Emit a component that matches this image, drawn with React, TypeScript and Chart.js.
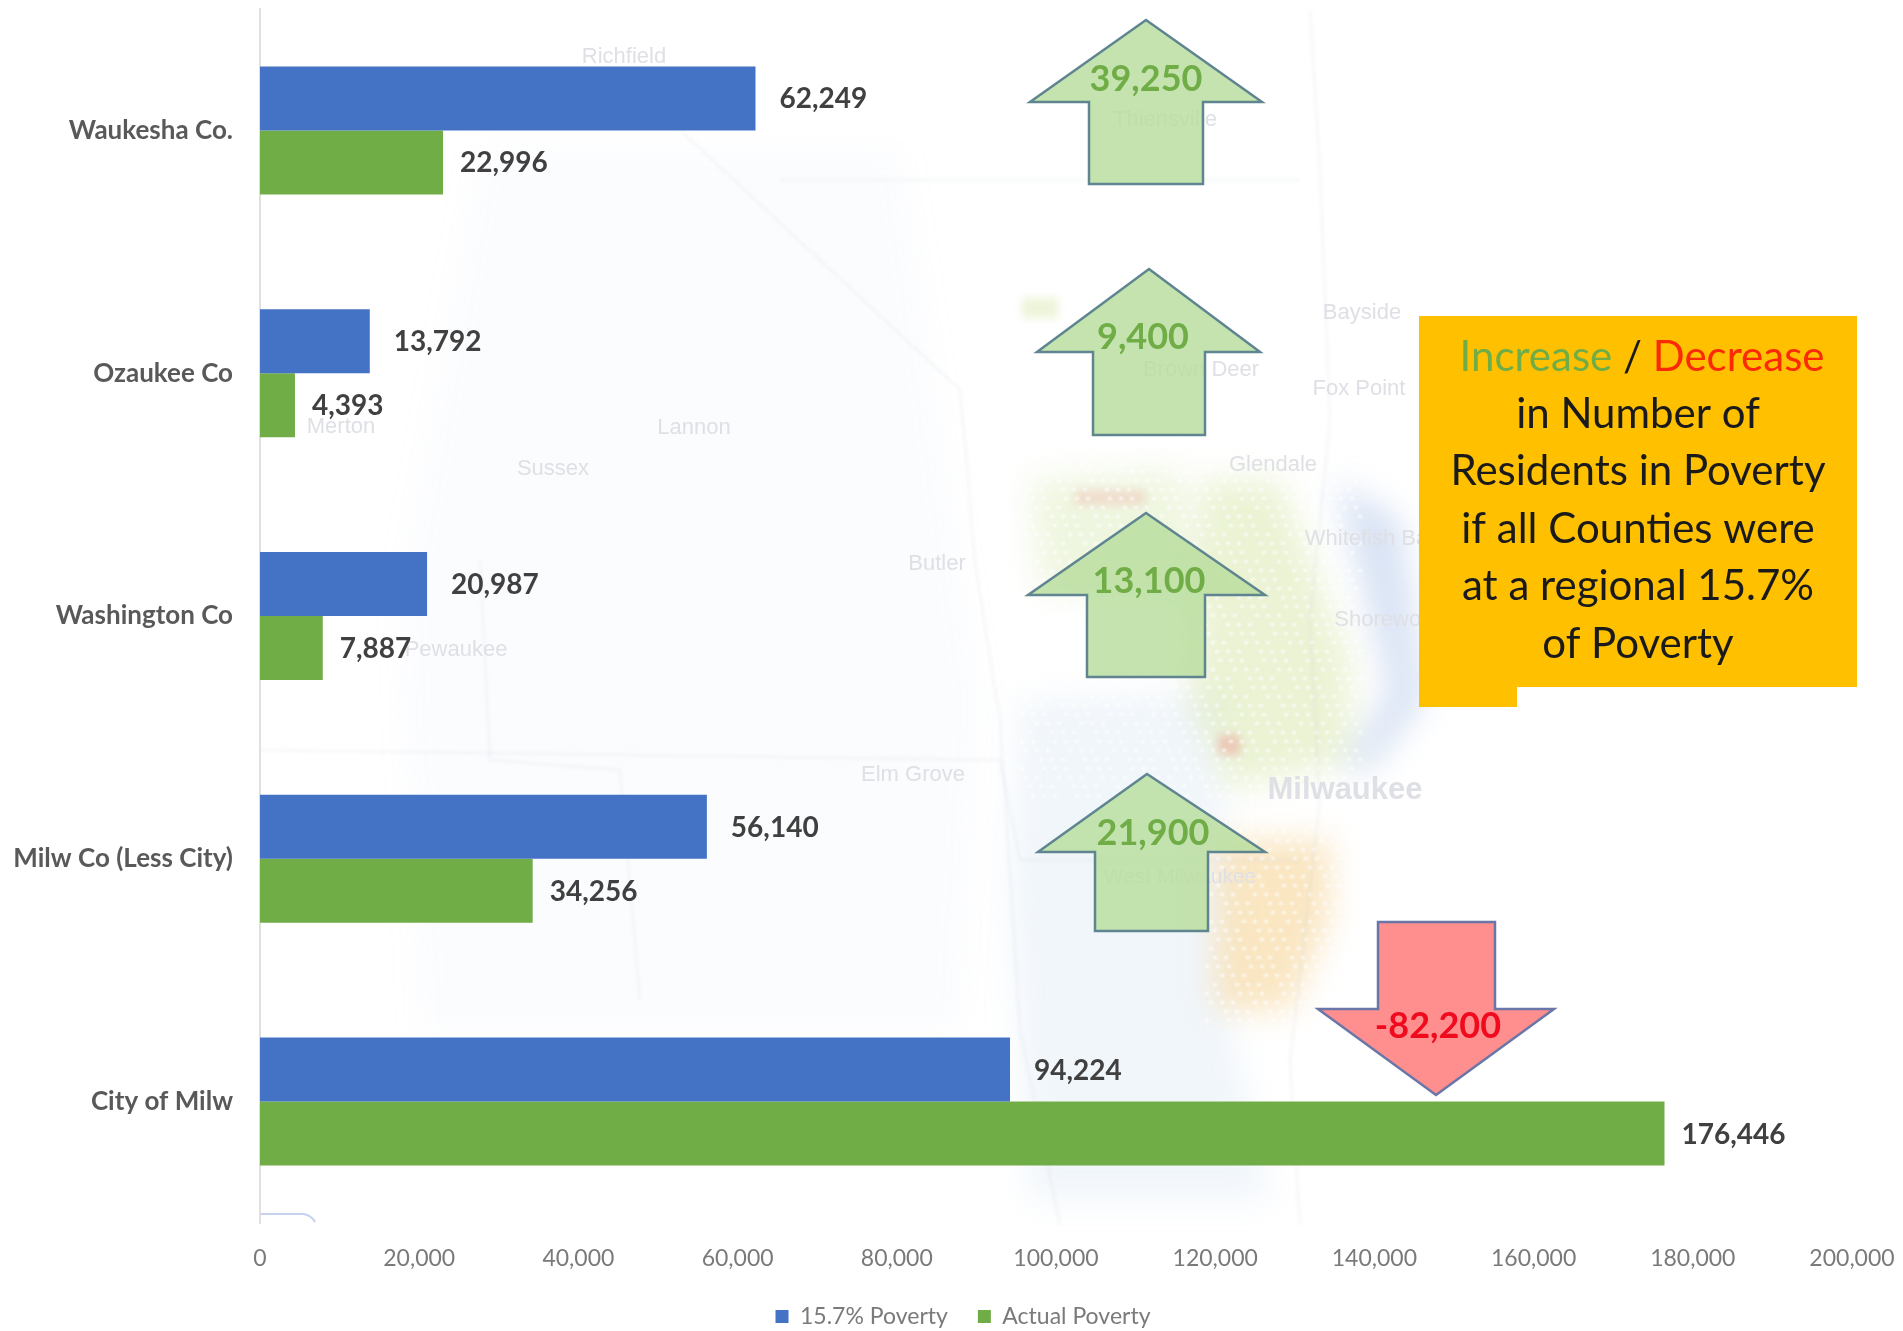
import React, { useEffect, useRef } from "react";
import { Chart, registerables } from "chart.js";

Chart.register(...registerables);

const categories = ["Waukesha Co.", "Ozaukee Co", "Washington Co", "Milw Co (Less City)", "City of Milw"];
const targetPoverty = [62249, 13792, 20987, 56140, 94224];
const actualPoverty = [22996, 4393, 7887, 34256, 176446];
const changeLabels = ["39,250", "9,400", "13,100", "21,900", "-82,200"];
const noteLines = ["in Number of", "Residents in Poverty", "if all Counties were", "at a regional 15.7%", "of Poverty"];
const mapNames: [string, number, number, number][] = [
  ["Richfield", 624, 57, 22], ["Thiensville", 1165, 120, 22], ["Bayside", 1362, 313, 22],
  ["Brown Deer", 1201, 370, 22], ["Fox Point", 1359, 389, 22], ["Merton", 341, 427, 22],
  ["Lannon", 694, 428, 22], ["Sussex", 553, 469, 22], ["Glendale", 1273, 465, 22],
  ["Whitefish Bay", 1372, 539, 22], ["Butler", 937, 564, 22], ["Shorewood", 1390, 620, 22],
  ["Pewaukee", 456, 650, 22], ["Elm Grove", 913, 775, 22], ["Milwaukee", 1345, 790, 31],
  ["West Milwaukee", 1180, 877, 21],
];

const FONT = "Lato, Carlito, sans-serif";

type Arrow = { tipX: number; tipY: number; baseY: number; left: number; right: number; sL: number; sR: number; endY: number; tx: number; ty: number };
const arrows: Arrow[] = [
  { tipX: 1146, tipY: 20, baseY: 102, left: 1030, right: 1262, sL: 1089, sR: 1203, endY: 184, tx: 1146, ty: 79 },
  { tipX: 1149, tipY: 269, baseY: 352, left: 1037, right: 1260, sL: 1093, sR: 1205, endY: 435, tx: 1143, ty: 337 },
  { tipX: 1146, tipY: 513, baseY: 595, left: 1028, right: 1265, sL: 1087, sR: 1205, endY: 677, tx: 1149, ty: 581 },
  { tipX: 1147, tipY: 774, baseY: 852, left: 1038, right: 1265, sL: 1095, sR: 1208, endY: 931, tx: 1153, ty: 833 },
  { tipX: 1436, tipY: 1095, baseY: 1009, left: 1318, right: 1554, sL: 1378, sR: 1495, endY: 922, tx: 1438, ty: 1026 },
];

function blob(ctx: CanvasRenderingContext2D, color: string, pts: number[][]) {
  ctx.fillStyle = color;
  ctx.beginPath();
  pts.forEach((p, i) => (i ? ctx.lineTo(p[0], p[1]) : ctx.moveTo(p[0], p[1])));
  ctx.closePath();
  ctx.fill();
}

const mapPlugin = {
  id: "mapBackdrop",
  afterLayout(chart: any) {
    // The reference's legend sits off-centre, and lower than Chart.js would put it.
    const legend = chart.legend;
    if (legend) {
      legend.left += 37;
      legend.right += 37;
      legend.top = 1275;
    }
  },
  beforeDraw(chart: any) {
    const ctx: CanvasRenderingContext2D = chart.ctx;
    ctx.save();
    ctx.fillStyle = "#ffffff";
    ctx.fillRect(0, 0, chart.width, chart.height);
    ctx.filter = "blur(16px)";
    blob(ctx, "rgba(150,185,225,0.13)", [[1020, 700], [1220, 690], [1230, 1020], [1270, 1200], [1030, 1200], [1010, 900]]);
    blob(ctx, "rgba(150,185,225,0.04)", [[480, 150], [900, 150], [980, 700], [960, 1030], [420, 1030], [400, 600]]);
    blob(ctx, "rgba(195,220,130,0.34)", [[1200, 480], [1280, 480], [1350, 660], [1350, 760], [1230, 790], [1190, 700]]);
    blob(ctx, "rgba(195,220,130,0.26)", [[1030, 480], [1180, 470], [1200, 590], [1040, 590]]);
    blob(ctx, "rgba(245,200,120,0.46)", [[1215, 840], [1330, 840], [1330, 920], [1290, 1010], [1215, 1010]]);
    blob(ctx, "rgba(110,150,215,0.28)", [[1335, 480], [1400, 520], [1425, 700], [1370, 770], [1340, 770], [1390, 690]]);
    ctx.filter = "blur(4px)";
    blob(ctx, "rgba(195,220,130,0.3)", [[1022, 298], [1058, 298], [1058, 318], [1022, 318]]);
    blob(ctx, "rgba(240,130,130,0.22)", [[1075, 490], [1145, 490], [1145, 505], [1075, 505]]);
    blob(ctx, "rgba(240,110,110,0.3)", [[1218, 735], [1240, 735], [1240, 755], [1218, 755]]);
    // Speckle: one path filled once, because a filter on every small rectangle is far too slow.
    ctx.filter = "blur(1px)";
    ctx.fillStyle = "rgba(255,255,255,0.75)";
    ctx.beginPath();
    [[1020, 470, 1360, 800], [1205, 830, 1340, 1020]].forEach(([x0, y0, x1, y1]) => {
      for (let py = y0, row = 0; py < y1; py += 9, row++) {
        for (let px = x0 + (row % 3) * 4, col = 0; px < x1; px += 11, col++) {
          if ((row * 7 + col * 5) % 4 !== 0) ctx.rect(px, py, 4, 3);
        }
      }
    });
    ctx.fill();
    ctx.filter = "blur(1.5px)";
    ctx.strokeStyle = "rgba(190,195,205,0.12)";
    ctx.lineWidth = 3;
    [
      [[680, 130], [960, 390], [975, 560], [1000, 720], [1020, 1030], [1060, 1225]],
      [[1310, 10], [1320, 170], [1330, 420], [1310, 620], [1320, 800], [1290, 1060], [1300, 1225]],
      [[260, 750], [1000, 760], [1020, 860], [1300, 860]],
      [[780, 180], [1300, 180]],
      [[480, 560], [490, 760], [620, 770], [640, 1000]],
    ].forEach((line) => {
      ctx.beginPath();
      line.forEach((p, i) => (i ? ctx.lineTo(p[0], p[1]) : ctx.moveTo(p[0], p[1])));
      ctx.stroke();
    });
    ctx.filter = "none";
    ctx.strokeStyle = "#c6d3f0";
    ctx.lineWidth = 2;
    ctx.beginPath();
    ctx.moveTo(260, 1214);
    ctx.lineTo(304, 1214);
    ctx.quadraticCurveTo(312, 1216, 315, 1222);
    ctx.stroke();
    ctx.textBaseline = "middle";
    ctx.textAlign = "center";
    mapNames.forEach(([name, x, y, size]) => {
      ctx.font = `${size > 25 ? "700 " : ""}${size}px "Liberation Sans", sans-serif`;
      ctx.fillStyle = "#dfe0e5";
      ctx.fillText(name, x, y);
    });
    ctx.restore();
  },
};

const valuePlugin = {
  id: "valueLabels",
  afterDatasetsDraw(chart: any) {
    const ctx: CanvasRenderingContext2D = chart.ctx;
    ctx.save();
    ctx.font = `700 28px ${FONT}`;
    ctx.fillStyle = "#404040";
    ctx.textAlign = "left";
    ctx.textBaseline = "middle";
    chart.data.datasets.forEach((ds: any, d: number) => {
      chart.getDatasetMeta(d).data.forEach((bar: any, i: number) => {
        const offset = d === 0 ? 24 : 17;
        ctx.fillText(Number(ds.data[i]).toLocaleString("en-US"), bar.x + offset, bar.y + 1);
      });
    });
    ctx.restore();
  },
};

const overlayPlugin = {
  id: "overlay",
  afterDraw(chart: any) {
    const ctx: CanvasRenderingContext2D = chart.ctx;
    ctx.save();
    arrows.forEach((a, i) => {
      const isDown = a.tipY > a.baseY;
      ctx.beginPath();
      ctx.moveTo(a.tipX, a.tipY);
      ctx.lineTo(a.right, a.baseY);
      ctx.lineTo(a.sR, a.baseY);
      ctx.lineTo(a.sR, a.endY);
      ctx.lineTo(a.sL, a.endY);
      ctx.lineTo(a.sL, a.baseY);
      ctx.lineTo(a.left, a.baseY);
      ctx.closePath();
      ctx.fillStyle = isDown ? "rgba(255,130,130,0.9)" : "rgba(183,221,156,0.82)";
      ctx.fill();
      ctx.strokeStyle = isDown ? "#6a76a8" : "#5f8590";
      ctx.lineWidth = 2.5;
      ctx.lineJoin = "miter";
      ctx.stroke();
      ctx.font = `700 36px ${FONT}`;
      ctx.textAlign = "center";
      ctx.textBaseline = "middle";
      ctx.fillStyle = isDown ? "#f00a1e" : "#70ad47";
      ctx.fillText(changeLabels[i], a.tx, a.ty);
    });

    ctx.fillStyle = "#ffc000";
    ctx.beginPath();
    ctx.moveTo(1419, 316);
    ctx.lineTo(1857, 316);
    ctx.lineTo(1857, 687);
    ctx.lineTo(1517, 687);
    ctx.lineTo(1517, 707);
    ctx.lineTo(1419, 707);
    ctx.closePath();
    ctx.fill();

    ctx.font = `400 42px ${FONT}`;
    ctx.textBaseline = "middle";
    ctx.textAlign = "left";
    const parts: [string, string][] = [["Increase", "#70ad47"], [" / ", "#1a1a1a"], ["Decrease", "#fb2a05"]];
    const total = parts.reduce((s, p) => s + ctx.measureText(p[0]).width, 0);
    let x = 1642 - total / 2;
    parts.forEach(([t, c]) => {
      ctx.fillStyle = c;
      ctx.fillText(t, x, 357);
      x += ctx.measureText(t).width;
    });
    ctx.textAlign = "center";
    ctx.fillStyle = "#1a1a1a";
    noteLines.forEach((line, i) => ctx.fillText(line, 1638, 414 + i * 57.5));
    ctx.restore();
  },
};

export default function App() {
  const ref = useRef<HTMLCanvasElement>(null);
  useEffect(() => {
    if (!ref.current) return;
    const chart = new Chart(ref.current, {
      type: "bar",
      data: {
        labels: categories,
        datasets: [
          { label: "15.7% Poverty", data: targetPoverty, backgroundColor: "#4472c4", categoryPercentage: 0.527, barPercentage: 1 },
          { label: "Actual Poverty", data: actualPoverty, backgroundColor: "#70ad47", categoryPercentage: 0.527, barPercentage: 1 },
        ],
      },
      options: {
        indexAxis: "y",
        animation: false,
        responsive: false,
        layout: { autoPadding: false, padding: { left: 0, right: 51, top: 9, bottom: -5 } },
        scales: {
          x: {
            min: 0,
            max: 200000,
            grid: { display: false },
            border: { display: false },
            ticks: {
              stepSize: 20000,
              maxRotation: 0,
              autoSkip: false,
              padding: 14,
              color: "#7a7a7a",
              font: { family: FONT, size: 23 },
              callback: (v: any) => Number(v).toLocaleString("en-US"),
            },
            afterFit: (s: any) => {
              s.height = 50;
              s.paddingLeft = 0;
              s.paddingRight = 0;
              s._margins.left = 0;
              s._margins.right = 0;
            },
          },
          y: {
            grid: { display: false, drawTicks: false },
            border: { display: true, color: "#e0e0e0", width: 2 },
            ticks: { padding: 27, color: "#595959", font: { family: FONT, size: 26, weight: 700 } },
            afterFit: (s: any) => {
              s.width = 260;
              s.paddingTop = 0;
              s.paddingBottom = 0;
              s._margins.top = 0;
              s._margins.bottom = 0;
            },
          },
        },
        plugins: {
          tooltip: { enabled: false },
          legend: {
            position: "bottom",
            labels: { boxWidth: 13, boxHeight: 13, padding: 30, color: "#7a7a7a", font: { family: FONT, size: 23 } },
          },
        },
      } as any,
      plugins: [mapPlugin, valuePlugin, overlayPlugin],
    });
    return () => chart.destroy();
  }, []);
  return (
    <div style={{ position: "absolute", left: 0, top: 0, width: 1903, height: 1331, overflow: "hidden" }}>
      <canvas ref={ref} width={1903} height={1331} style={{ display: "block", width: 1903, height: 1331, filter: "blur(0.5px)" }} />
    </div>
  );
}
